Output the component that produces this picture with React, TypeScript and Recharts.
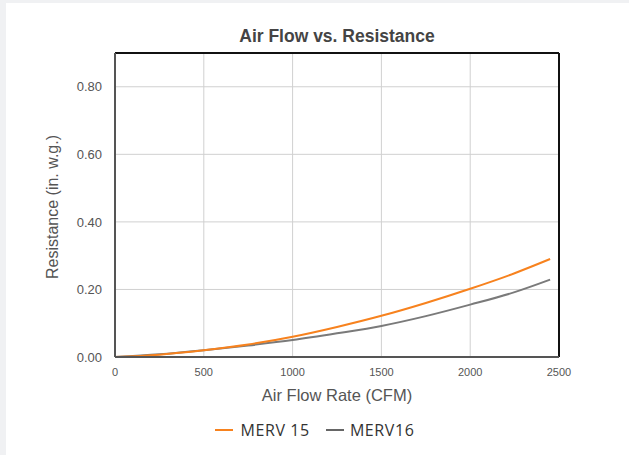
import { LineChart, Line, XAxis, YAxis, CartesianGrid, ReferenceLine } from "recharts";

// air flow (CFM) sample points
const flow = [0, 250, 500, 750, 1000, 1250, 1500, 1750, 2000, 2250, 2450];
const merv15 = [0, 0.007, 0.02, 0.037, 0.06, 0.089, 0.122, 0.16, 0.202, 0.248, 0.29];
const merv16 = [0, 0.008, 0.02, 0.034, 0.05, 0.07, 0.092, 0.121, 0.155, 0.192, 0.229];

const xTicks = [0, 500, 1000, 1500, 2000, 2500];
const yTicks = [0, 0.2, 0.4, 0.6, 0.8];

const ORANGE = "#f7821e";
const GRAY = "#7a7a7a";

const data = flow.map((f, i) => ({ flow: f, merv15: merv15[i], merv16: merv16[i] }));

const YLabel = (props: any) => {
  const { viewBox } = props;
  const cx = viewBox.x + 17;
  const cy = viewBox.y + viewBox.height / 2 + 2;
  return (
    <text x={cx} y={cy} transform={`rotate(-90, ${cx}, ${cy})`} textAnchor="middle"
      dominantBaseline="central" fontSize={16} fill="#555">
      Resistance (in. w.g.)
    </text>
  );
};

export default function App() {
  return (
    <div style={{ position: "absolute", left: 0, top: 0, width: 629, height: 455, background: "#f0f1f3", fontFamily: "'Liberation Sans', Arial, sans-serif" }}>
      <div style={{ position: "absolute", left: 6, top: 3, width: 623, height: 452, background: "#fff" }} />

      <div style={{ position: "absolute", left: 115, width: 444, top: 26, textAlign: "center", fontWeight: "bold", fontSize: 17.5, color: "#444" }}>
        Air Flow vs. Resistance
      </div>

      <div style={{ position: "absolute", left: 0, top: 0 }}>
        <LineChart width={629} height={455} data={data} margin={{ top: 53, right: 70, bottom: 68, left: 35 }}>
          <CartesianGrid stroke="#d0d0d0" strokeWidth={1} />
          <XAxis
            dataKey="flow"
            type="number"
            domain={[0, 2500]}
            ticks={xTicks}
            tickLine={false}
            tickMargin={5}
            height={30}
            axisLine={{ stroke: "#555", strokeWidth: 2 }}
            tick={{ fontSize: 11, fill: "#555" }}
            label={{ value: "Air Flow Rate (CFM)", position: "insideBottom", offset: -14, fontSize: 16.5, fill: "#555" }}
          />
          <YAxis
            type="number"
            domain={[0, 0.9]}
            ticks={yTicks}
            width={80}
            tickLine={false}
            tickMargin={7}
            axisLine={{ stroke: "#555", strokeWidth: 2 }}
            tick={{ fontSize: 13, fill: "#555" }}
            tickFormatter={(v: number) => v.toFixed(2)}
            label={<YLabel />}
          />
          <ReferenceLine y={0.9} stroke="#111" strokeWidth={2} />
          <ReferenceLine x={2500} stroke="#111" strokeWidth={2} />
          <Line type="monotone" dataKey="merv16" stroke={GRAY} strokeWidth={2} dot={false} isAnimationActive={false} />
          <Line type="monotone" dataKey="merv15" stroke={ORANGE} strokeWidth={2} dot={false} isAnimationActive={false} />
        </LineChart>
      </div>

      <div style={{ position: "absolute", left: 0, width: 629, top: 419, display: "flex", justifyContent: "center", gap: 16, fontFamily: "'Open Sans', sans-serif", fontSize: 16, color: "#333", letterSpacing: 0.6 }}>
        <span style={{ display: "flex", alignItems: "center", gap: 8 }}>
          <span style={{ display: "inline-block", width: 18, height: 2, background: ORANGE }} />
          MERV 15
        </span>
        <span style={{ display: "flex", alignItems: "center", gap: 6 }}>
          <span style={{ display: "inline-block", width: 18, height: 2, background: "#666" }} />
          MERV16
        </span>
      </div>
    </div>
  );
}
